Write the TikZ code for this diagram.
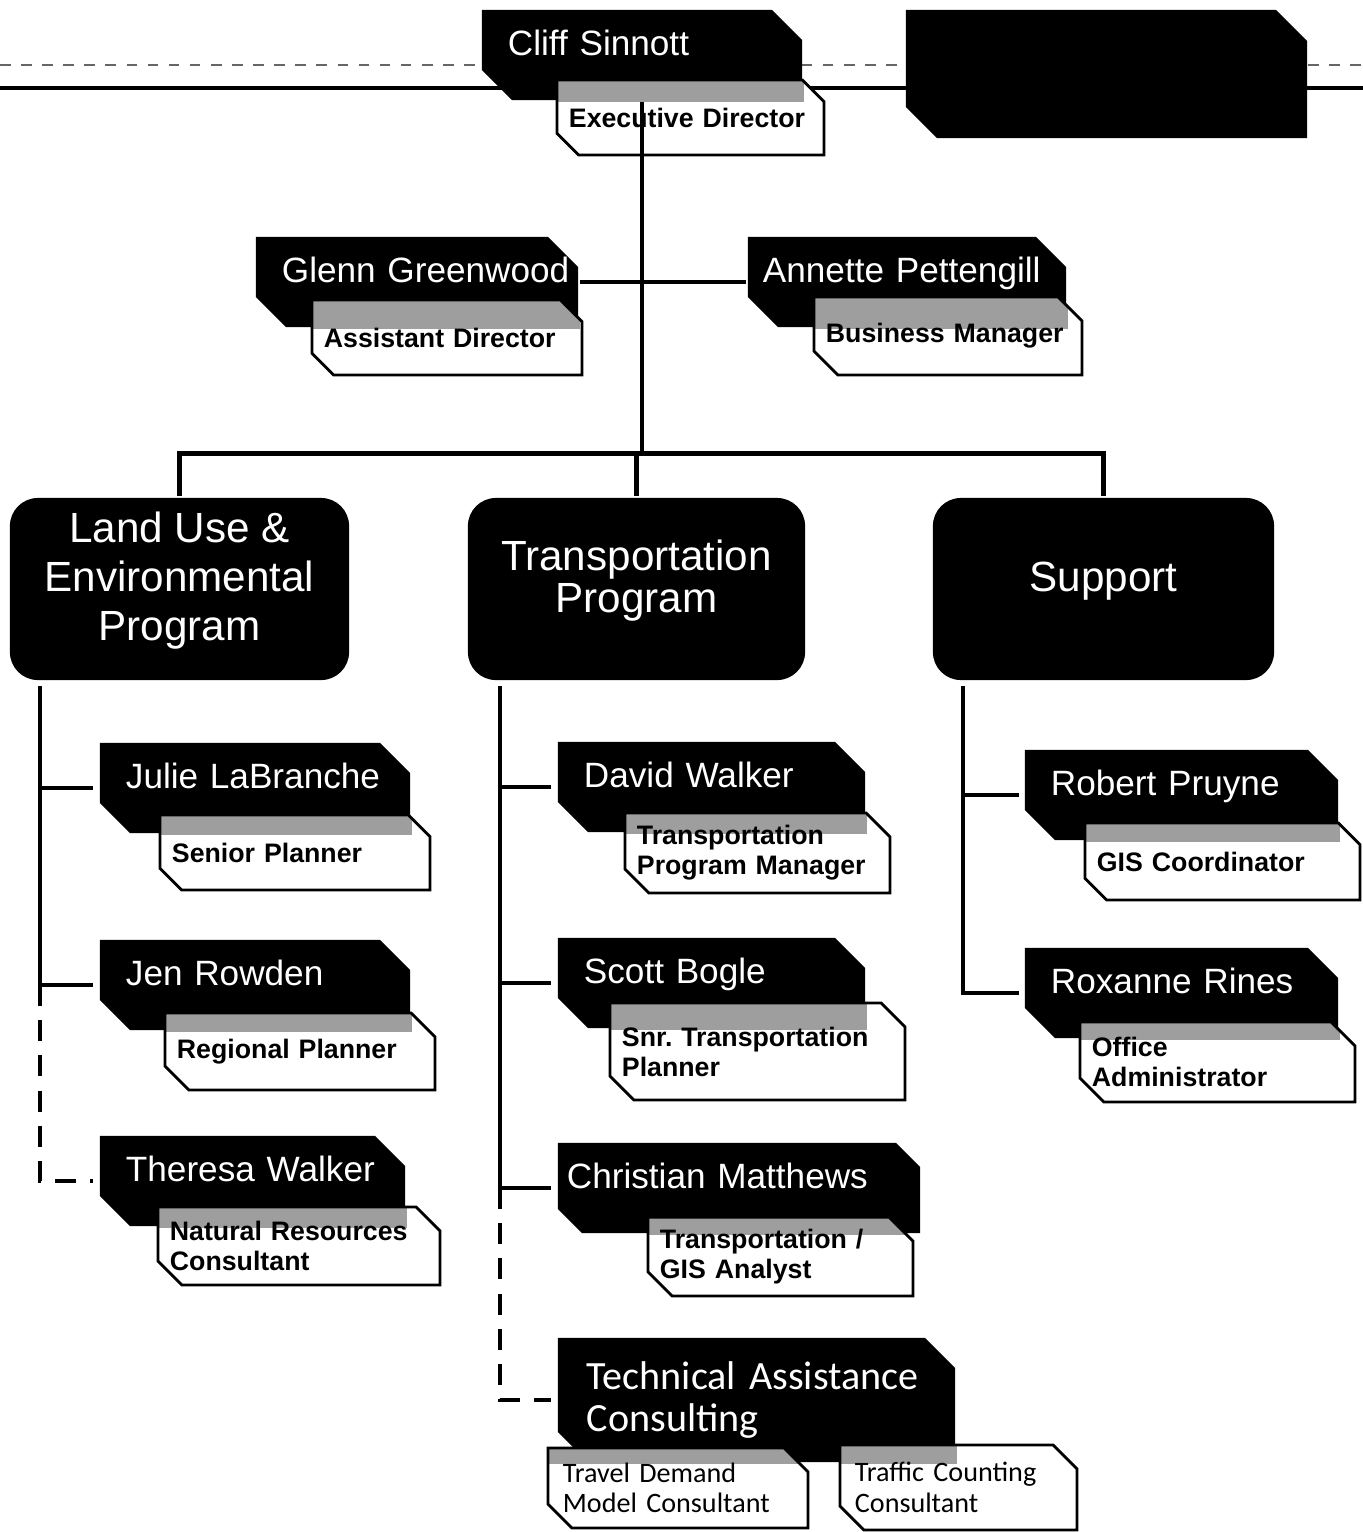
\documentclass[tikz,border=0pt]{standalone}
\usepackage{fontspec}
\setmainfont{Liberation Sans}
\newfontfamily\calibri{Carlito}
\usetikzlibrary{shapes.misc}

\begin{document}
\begin{tikzpicture}[x=0.01cm, y=-0.01cm, line width=1.3pt,
    namebox/.style={chamfered rectangle, chamfered rectangle corners={north east,south west}, chamfered rectangle xsep=0.15cm, chamfered rectangle ysep=0.15cm, fill=black, text=white, minimum height=0.9cm, inner xsep=0.11cm, inner ysep=0pt, align=left, text height=0.3cm, text depth=0.3cm, font=\fontsize{10}{12}\selectfont},
    titlebox/.style={chamfered rectangle, chamfered rectangle corners={north east,south west}, chamfered rectangle xsep=0.12cm, chamfered rectangle ysep=0.12cm, draw=black, line width=0.8pt, fill=white, inner xsep=0pt, inner ysep=0pt, align=left, font=\bfseries\fontsize{7.6}{8.5}\selectfont, path picture={\fill[black!38] (path picture bounding box.north west) rectangle (#1.south east);}},
    progbox/.style={rectangle, rounded corners=0.28cm, fill=black, text=white, minimum height=1.82cm, align=center, text depth=0.25cm, font=\fontsize{12}{13.9}\selectfont},
    dashconn/.style={dash pattern=on 6pt off 4pt}]
    \useasboundingbox (0,0) rectangle (1363,1532);

    % page rules behind the top row
    \draw[line width=0.4pt, dashed, black!60] (0,65) -- (1363,65);
    \draw[line width=1pt] (0,88) -- (1363,88);

    % director and staff
    \node[namebox, minimum width=3.20cm, text width=2.68cm] at (642,55) (cliff) {\mbox{Cliff Sinnott}};
    \node[titlebox=cliff, minimum width=2.67cm, minimum height=0.75cm, text width=2.43cm] at (690.5,117.5) (execdir) {Executive Director};
    \node[namebox, minimum width=4.01cm, minimum height=1.28cm, chamfered rectangle xsep=0.2cm, chamfered rectangle ysep=0.2cm] at (1106.5,74) (blank) {};

    \node[namebox, minimum width=3.22cm, text width=2.70cm] at (417,282) (glenn) {\mbox{Glenn Greenwood}};
    \node[titlebox=glenn, minimum width=2.70cm, minimum height=0.75cm, text width=2.46cm] at (447,337.5) (asstdir) {Assistant Director};
    \node[namebox, minimum width=3.18cm, text width=2.88cm, inner xsep=0pt] at (907,282) (annette) {\mbox{Annette Pettengill}};
    \node[titlebox=annette, minimum width=2.68cm, minimum height=0.78cm, text width=2.44cm] at (948,336) (busmgr) {Business Manager};

    % programs
    \node[progbox, minimum width=3.39cm] at (179.5,589) (land) {Land Use \&\\Environmental\\Program};
    \node[progbox, minimum width=3.37cm] at (636.5,589) (trans) {Transportation\\[-2pt]Program};
    \node[progbox, minimum width=3.41cm] at (1103.5,589) (support) {Support};

    % land use column
    \node[namebox, minimum width=3.10cm, text width=2.58cm] at (255,788) (julie) {\mbox{Julie LaBranche}};
    \node[titlebox=julie, minimum width=2.70cm, minimum height=0.75cm, text width=2.46cm] at (295,852.5) (senpl) {Senior Planner};
    \node[namebox, minimum width=3.10cm, text width=2.58cm] at (255,985) (jen) {\mbox{Jen Rowden}};
    \node[titlebox=jen, minimum width=2.70cm, minimum height=0.77cm, text width=2.46cm] at (300,1051.5) (regpl) {Regional Planner};
    \node[namebox, minimum width=3.05cm, text width=2.53cm] at (252.5,1181) (theresa) {\mbox{Theresa Walker}};
    \node[titlebox=theresa, minimum width=2.82cm, minimum height=0.78cm, text width=2.58cm] at (299,1246) (natres) {Natural Resources\\Consultant};

    % transportation column
    \node[namebox, minimum width=3.07cm, text width=2.55cm] at (711.5,787) (david) {\mbox{David Walker}};
    \node[titlebox=david, minimum width=2.65cm, minimum height=0.80cm, text width=2.41cm] at (757.5,853) (tpm) {Transportation\\Program Manager};
    \node[namebox, minimum width=3.07cm, text width=2.55cm] at (711.5,983) (scott) {\mbox{Scott Bogle}};
    \node[titlebox=scott, minimum width=2.95cm, minimum height=0.97cm, text width=2.71cm] at (757.5,1051.5) (snrtp) {Snr.\ Transportation\\Planner};
    \node[namebox, minimum width=3.62cm, text width=3.44cm, inner xsep=0pt, chamfered rectangle xsep=0.09cm] at (739,1188) (christian) {\mbox{Christian Matthews}};
    \node[titlebox=christian, minimum width=2.65cm, minimum height=0.77cm, text width=2.41cm] at (780.5,1256.5) (gisan) {Transportation /\\GIS Analyst};
    \node[namebox, minimum width=3.97cm, minimum height=1.24cm, text width=3.39cm, inner xsep=0.14cm, text height=, text depth=, font=\calibri\fontsize{11.4}{12.2}\selectfont] at (756.5,1400) (tac) {Technical Assistance\\Consulting};
    \node[titlebox=tac, minimum width=2.56cm, minimum height=0.80cm, text width=2.30cm, inner xsep=0.03cm, font=\calibri\fontsize{8}{8.7}\selectfont] at (678,1488) (tdm) {Travel Demand\\Model Consultant};
    \node[titlebox=tac, minimum width=2.33cm, minimum height=0.85cm, text width=2.07cm, inner xsep=0.03cm, font=\calibri\fontsize{8}{8.7}\selectfont] at (958.5,1487.5) (tcc) {Traffic Counting\\Consultant};

    % support column
    \node[namebox, minimum width=3.13cm, text width=2.61cm] at (1181.5,795) (robert) {\mbox{Robert Pruyne}};
    \node[titlebox=robert, minimum width=2.75cm, minimum height=0.77cm, text width=2.51cm] at (1222.5,861.5) (gisc) {GIS Coordinator};
    \node[namebox, minimum width=3.13cm, text width=2.61cm] at (1181.5,993) (roxanne) {\mbox{Roxanne Rines}};
    \node[titlebox=roxanne, minimum width=2.75cm, minimum height=0.80cm, text width=2.51cm] at (1217.5,1062) (offadm) {Office\\Administrator};

    % connectors
    \draw (cliff.south) -- (cliff.south |- 0,455);
    \draw (glenn.east) -- (annette.west);
    \draw (land.north) -- ++(0,-42) -| (support.north);
    \draw (trans.north) -- ++(0,-42);

    \coordinate (lt) at (40,686);
    \coordinate (mt) at (500,686);
    \coordinate (rt) at (963,686);
    \draw[shorten >=0.05cm] (lt) |- (julie.west);
    \draw[shorten >=0.05cm] (lt) |- (jen.west);
    \draw[dashconn, shorten >=0.05cm] (lt |- jen.west) |- (theresa.west);
    \draw[shorten >=0.05cm] (mt) |- (david.west);
    \draw[shorten >=0.05cm] (mt) |- (scott.west);
    \draw[shorten >=0.05cm] (mt) |- (christian.west);
    \draw[dashconn, shorten >=0.05cm] (mt |- christian.west) |- (tac.west);
    \draw[shorten >=0.04cm] (rt) |- (robert.west);
    \draw[shorten >=0.04cm] (rt) |- (roxanne.west);
\end{tikzpicture}
\end{document}
